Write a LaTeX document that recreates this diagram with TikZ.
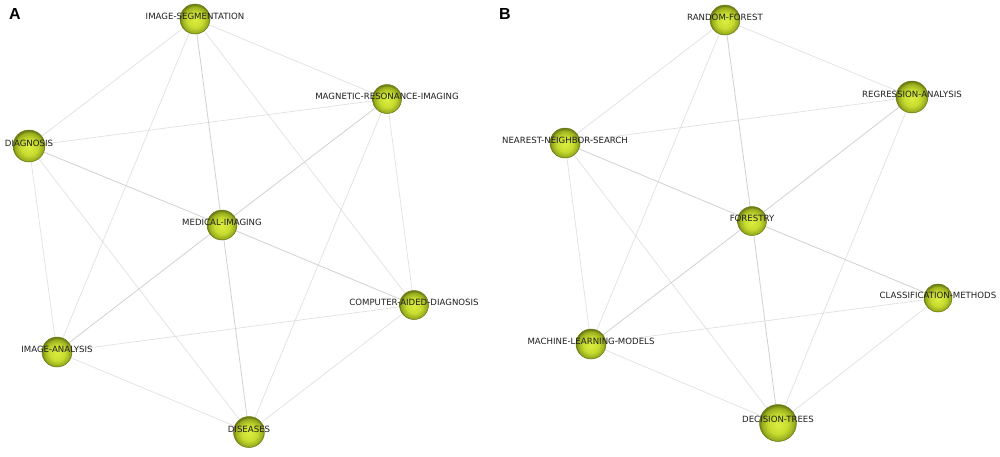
\documentclass[tikz,border=0pt]{standalone}
\usepackage{fontspec}
\usetikzlibrary{backgrounds}
\newfontfamily\kwfont{DejaVu Sans}
\newfontfamily\panelfont{Liberation Sans}
\definecolor{kwlight}{RGB}{218,238,64}
\definecolor{kwmid}{RGB}{200,220,48}
\definecolor{kwdark}{RGB}{152,172,30}
\definecolor{kwrim}{RGB}{108,124,20}
\definecolor{kwtext}{RGB}{30,30,30}
\pgfdeclareradialshading{kwball}{\pgfpoint{0bp}{-2bp}}{color(0bp)=(kwlight); color(13bp)=(kwmid); color(22bp)=(kwdark); color(25bp)=(kwrim); color(50bp)=(kwrim)}

\begin{document}
\begin{tikzpicture}[x=1pt, y=-1pt]
   \tikzstyle{kw}=[circle, inner sep=0pt, minimum size=30pt, shading=kwball, draw=kwrim, line width=0.5pt]
   \tikzstyle{kwlabel}=[text=kwtext, inner sep=0pt, yshift=2.5pt, font=\kwfont\fontsize{8.6}{10}\selectfont]
   \tikzstyle{link}=[draw=black!12, line width=0.7pt]
   \tikzstyle{strong}=[draw=black!18, line width=0.8pt]
   \tikzstyle{panel}=[font=\panelfont\bfseries\fontsize{16}{18}\selectfont]
   \useasboundingbox (0,0) rectangle (1000,456);

% panel A
\node[panel] (A) at (15,14) {A};
\node[kw, label={[kwlabel]center:IMAGE-SEGMENTATION}] (seg) at (195,19) {};
\node[kw, minimum size=29pt, label={[kwlabel]center:MAGNETIC-RESONANCE-IMAGING}] (mri) at (387,99) {};
\node[kw, minimum size=32pt, label={[kwlabel]center:DIAGNOSIS}] (diag) at (29,146) {};
\node[kw, label={[kwlabel]center:MEDICAL-IMAGING}] (med) at (222,225) {};
\node[kw, minimum size=29pt, label={[kwlabel]center:COMPUTER-AIDED-DIAGNOSIS}] (cad) at (414,305) {};
\node[kw, label={[kwlabel]center:IMAGE-ANALYSIS}] (ana) at (57,352) {};
\node[kw, minimum size=31pt, label={[kwlabel]center:DISEASES}] (dis) at (249,432) {};

% panel B
\node[panel] (B) at (505,14) {B};
\node[kw, label={[kwlabel]center:RANDOM-FOREST}] (rf) at (725,20) {};
\node[kw, minimum size=32pt, label={[kwlabel]center:REGRESSION-ANALYSIS}] (reg) at (912,97) {};
\node[kw, label={[kwlabel]center:NEAREST-NEIGHBOR-SEARCH}] (nns) at (565,143) {};
\node[kw, minimum size=29pt, label={[kwlabel]center:FORESTRY}] (fst) at (752,221) {};
\node[kw, minimum size=28pt, label={[kwlabel]center:CLASSIFICATION-METHODS}] (cls) at (938,298) {};
\node[kw, label={[kwlabel]center:MACHINE-LEARNING-MODELS}] (mlm) at (591,344) {};
\node[kw, minimum size=37pt, label={[kwlabel,yshift=1.5pt]center:DECISION-TREES}] (dt) at (778,423) {};

\begin{pgfonlayer}{background}
% links A
\draw[link] (seg) -- (mri) (seg) -- (diag) (seg) -- (ana) (seg) -- (cad)
    (diag) -- (mri) (diag) -- (ana) (diag) -- (dis)
    (mri) -- (dis) (mri) -- (cad)
    (ana) -- (cad) (ana) -- (dis) (cad) -- (dis);
\draw[strong] (seg) -- (med) (diag) -- (med) (mri) -- (med)
    (med) -- (cad) (med) -- (ana) (med) -- (dis);
% links B
\draw[link] (rf) -- (nns) (rf) -- (reg) (rf) -- (mlm)
    (nns) -- (reg) (nns) -- (mlm) (nns) -- (dt)
    (reg) -- (dt) (mlm) -- (cls) (mlm) -- (dt) (cls) -- (dt);
\draw[strong] (rf) -- (fst) (nns) -- (fst) (reg) -- (fst)
    (fst) -- (cls) (fst) -- (mlm) (fst) -- (dt);
\end{pgfonlayer}

\end{tikzpicture}
\end{document}
